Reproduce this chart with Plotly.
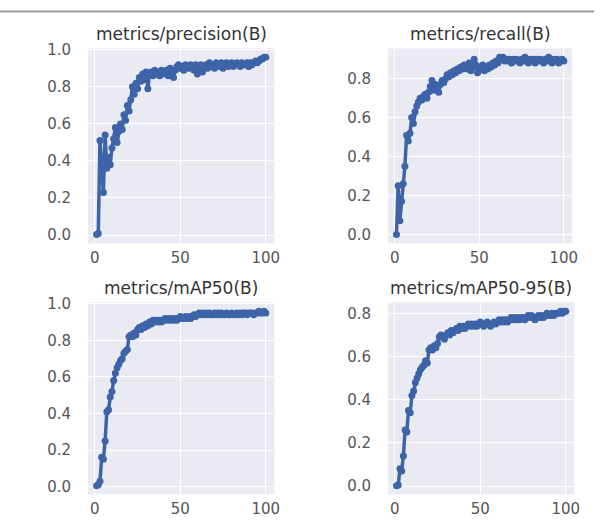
import plotly.graph_objects as go

epochs = list(range(1, 101))

titles = ["metrics/precision(B)", "metrics/recall(B)", "metrics/mAP50(B)", "metrics/mAP50-95(B)"]

precision = [
    0.003, 0.008, 0.51, 0.33, 0.23, 0.54, 0.36, 0.42, 0.38, 0.47,
    0.52, 0.58, 0.50, 0.56, 0.60, 0.57, 0.65, 0.62, 0.70, 0.67,
    0.73, 0.80, 0.76, 0.82, 0.79, 0.85, 0.83, 0.87, 0.84, 0.88,
    0.79, 0.87, 0.88, 0.86, 0.89, 0.87, 0.88, 0.86, 0.89, 0.88,
    0.87, 0.89, 0.86, 0.90, 0.88, 0.85, 0.89, 0.91, 0.92, 0.90,
    0.91, 0.89, 0.92, 0.91, 0.90, 0.92, 0.91, 0.89, 0.92, 0.87,
    0.90, 0.92, 0.88, 0.91, 0.92, 0.90, 0.93, 0.91, 0.92, 0.90,
    0.93, 0.92, 0.91, 0.93, 0.90, 0.92, 0.93, 0.91, 0.92, 0.93,
    0.91, 0.92, 0.93, 0.92, 0.91, 0.93, 0.92, 0.92, 0.93, 0.91,
    0.93, 0.92, 0.93, 0.94, 0.93, 0.94, 0.95, 0.95, 0.96, 0.96,
]

recall = [
    0.00, 0.25, 0.07, 0.17, 0.26, 0.35, 0.51, 0.48, 0.52, 0.60,
    0.57, 0.63, 0.66, 0.68, 0.70, 0.69, 0.71, 0.72, 0.70, 0.73,
    0.76, 0.79, 0.74, 0.77, 0.75, 0.73, 0.77, 0.79, 0.78, 0.80,
    0.82, 0.81, 0.83, 0.82, 0.84, 0.83, 0.85, 0.84, 0.86, 0.85,
    0.87, 0.86, 0.85, 0.88, 0.84, 0.86, 0.90, 0.87, 0.83, 0.86,
    0.85, 0.87, 0.84, 0.86, 0.85, 0.87, 0.86, 0.88, 0.87, 0.89,
    0.88, 0.91, 0.90, 0.91, 0.89, 0.90, 0.89, 0.90, 0.88, 0.90,
    0.89, 0.90, 0.89, 0.88, 0.90, 0.89, 0.91, 0.89, 0.88, 0.90,
    0.89, 0.90, 0.88, 0.90, 0.89, 0.90, 0.89, 0.88, 0.90, 0.89,
    0.91, 0.90, 0.88, 0.90, 0.89, 0.90, 0.88, 0.89, 0.90, 0.89,
]

map50 = [
    0.005, 0.01, 0.03, 0.16, 0.15, 0.25, 0.41, 0.42, 0.49, 0.52,
    0.58, 0.62, 0.65, 0.67, 0.69, 0.70, 0.73, 0.74, 0.75, 0.82,
    0.83, 0.82, 0.84, 0.83, 0.86, 0.87, 0.86, 0.88, 0.87, 0.89,
    0.88, 0.90, 0.89, 0.91, 0.90, 0.91, 0.90, 0.91, 0.90, 0.91,
    0.92, 0.91, 0.92, 0.91, 0.92, 0.91, 0.92, 0.91, 0.92, 0.93,
    0.92, 0.92, 0.93, 0.92, 0.93, 0.92, 0.93, 0.94, 0.93, 0.94,
    0.95, 0.94, 0.95, 0.94, 0.95, 0.94, 0.95, 0.94, 0.94, 0.95,
    0.94, 0.95, 0.94, 0.95, 0.94, 0.94, 0.95, 0.94, 0.94, 0.95,
    0.94, 0.94, 0.95, 0.94, 0.95, 0.94, 0.95, 0.95, 0.94, 0.95,
    0.95, 0.95, 0.94, 0.95, 0.95, 0.96, 0.95, 0.95, 0.96, 0.95,
]

map50_95 = [
    0.002, 0.005, 0.08, 0.07, 0.14, 0.26, 0.25, 0.35, 0.34, 0.42,
    0.44, 0.48, 0.50, 0.52, 0.54, 0.55, 0.56, 0.58, 0.57, 0.63,
    0.64, 0.63, 0.65, 0.64, 0.66, 0.69, 0.70, 0.69, 0.68, 0.70,
    0.71, 0.70, 0.72, 0.71, 0.72, 0.73, 0.72, 0.74, 0.73, 0.74,
    0.73, 0.74, 0.75, 0.74, 0.75, 0.74, 0.75, 0.74, 0.75, 0.76,
    0.75, 0.74, 0.75, 0.76, 0.75, 0.74, 0.75, 0.76, 0.75, 0.76,
    0.77, 0.76, 0.77, 0.76, 0.77, 0.76, 0.77, 0.78, 0.77, 0.78,
    0.77, 0.78, 0.77, 0.78, 0.78, 0.77, 0.78, 0.79, 0.78, 0.79,
    0.78, 0.77, 0.78, 0.79, 0.78, 0.79, 0.78, 0.79, 0.80, 0.79,
    0.79, 0.80, 0.79, 0.80, 0.80, 0.80, 0.81, 0.80, 0.81, 0.81,
]

series = [precision, recall, map50, map50_95]

W, H = 600, 523
LINE = "#3D64A8"
BG = "#EAEAF2"

# pixel boxes (left, right, top, bottom)
boxes = [(89, 277, 42, 240), (392, 578, 42, 240), (89, 277, 300, 495), (392, 580, 300, 495)]

fig = go.Figure()
for i, (ys, box) in enumerate(zip(series, boxes)):
    n = i + 1
    xa = "x" if n == 1 else f"x{n}"
    ya = "y" if n == 1 else f"y{n}"
    fig.add_trace(go.Scatter(
        x=epochs, y=ys, mode="lines+markers", xaxis=xa, yaxis=ya,
        line=dict(color=LINE, width=3.5),
        marker=dict(color=LINE, size=7),
        showlegend=False, hoverinfo="skip",
    ))
    l, r, t, b = box
    ymin, ymax = min(ys), max(ys)
    pad = 0.05 * (ymax - ymin)
    xkey = "xaxis" if n == 1 else f"xaxis{n}"
    ykey = "yaxis" if n == 1 else f"yaxis{n}"
    fig.layout[xkey] = dict(
        domain=[l / W, r / W], anchor=ya, range=[-3.95, 104.95],
        tickvals=[0, 50, 100], showgrid=True, gridcolor="white", gridwidth=1,
        zeroline=False, showline=False, ticks="", ticklabelstandoff=4,
        tickfont=dict(family="DejaVu Sans", size=15, color="#555555"),
    )
    fig.layout[ykey] = dict(
        domain=[1 - b / H, 1 - t / H], anchor=xa, range=[ymin - pad, ymax + pad],
        tickvals=[0, 0.2, 0.4, 0.6, 0.8, 1.0], ticktext=["0.0", "0.2", "0.4", "0.6", "0.8", "1.0"],
        showgrid=True, gridcolor="white", gridwidth=1,
        zeroline=False, showline=False, ticks="", ticklabelstandoff=16,
        tickfont=dict(family="DejaVu Sans", size=15, color="#555555"),
    )
    fig.add_annotation(text=titles[i], xref="paper", yref="paper",
                       x=(l + r) / 2 / W, y=1 - (t - 15) / H,
                       xanchor="center", yanchor="middle",
                       showarrow=False,
                       font=dict(family="DejaVu Sans", size=17, color="#333333"))

fig.add_shape(type="line", xref="paper", yref="paper", x0=0, x1=1,
              y0=1 - 4.5 / H, y1=1 - 4.5 / H, line=dict(color="#9a9a9a", width=2))

fig.update_layout(
    width=W, height=H, margin=dict(l=0, r=0, t=0, b=0),
    paper_bgcolor="white", plot_bgcolor=BG,
)

fig.write_html("out.html")
